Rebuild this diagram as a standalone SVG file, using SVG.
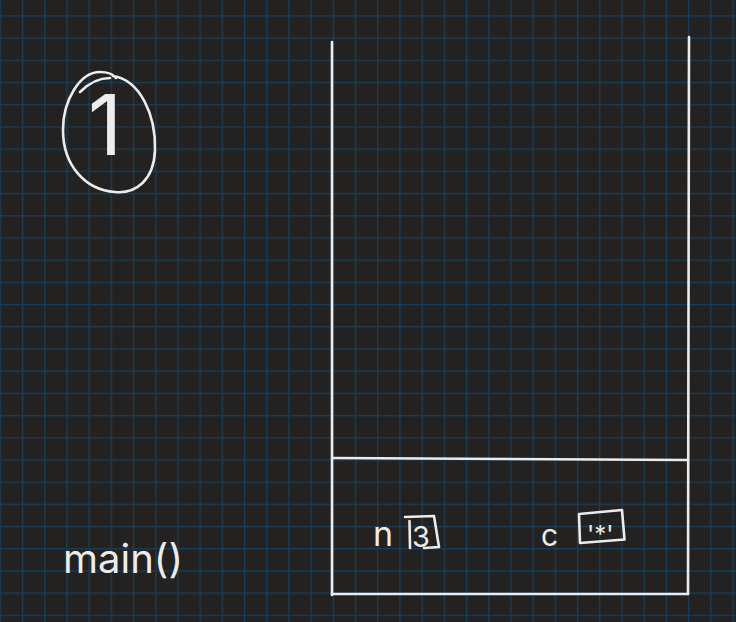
<svg xmlns="http://www.w3.org/2000/svg" width="736" height="622" viewBox="0 0 736 622">
<defs>
<pattern id="grid" patternUnits="userSpaceOnUse" x="-0.3" y="15.3" width="22.2" height="22.2">
<rect x="0" y="0" width="1.3" height="22.2" fill="#173d5a"/>
<rect x="0" y="0" width="22.2" height="1.3" fill="#173d5a"/>
</pattern>
<style>
.ink{fill:none;stroke:#ececec;stroke-width:2.6;stroke-linecap:round;stroke-linejoin:round}
.hand{font-family:Inter,"Noto Sans","DejaVu Sans",sans-serif;font-weight:400;fill:#ececec}
</style>
</defs>
<rect width="736" height="622" fill="#232221"/>
<rect width="736" height="622" fill="url(#grid)"/>
<g id="step-badge">
<path class="ink" d="M113 76 C140 80 156 115 155 150 C154 180 136 194 115 192 C85 190 63 165 63 130 C63 100 80 72 100 72 C108 72 113 74 116 78"/>
<path class="ink" d="M80 92 C90 82 100 78 110 78"/>
<text class="hand" x="88" y="155" font-size="84" font-weight="200">1</text>
</g>
<g id="stack">
<path class="ink" d="M332 42 L332 595"/>
<path class="ink" d="M689 37 L688 594"/>
<path class="ink" d="M333 458 L687 460"/>
<path class="ink" d="M332 594 L688 594"/>
</g>
<g id="var-n">
<text class="hand" x="373" y="546" font-size="34">n</text>
<path class="ink" d="M405 517 L434 516 L439 547 L424 548"/>
<path class="ink" d="M409.5 521 L410 548"/>
<text class="hand" x="412" y="547" font-size="29">3</text>
</g>
<g id="var-c">
<text class="hand" x="541" y="546" font-size="30">c</text>
<path class="ink" d="M579 514 L622 510 L624.5 539.5 L580 543 Z"/>
<text class="hand" x="587" y="543" font-size="24">'*'</text>
</g>
<g id="frame-label">
<text class="hand" x="63" y="573" font-size="40">main()</text>
</g>
<g id="connectors"/>
</svg>
